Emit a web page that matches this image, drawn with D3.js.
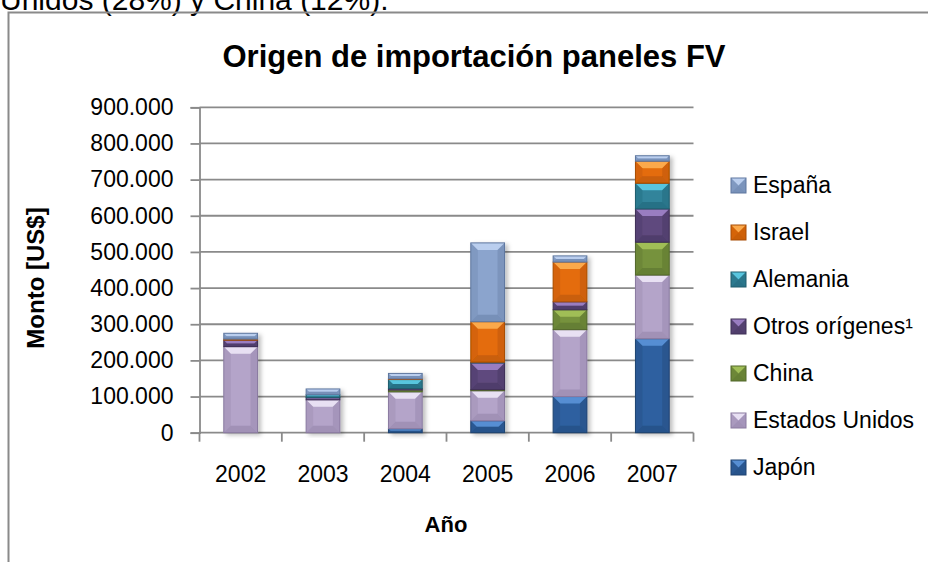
<!DOCTYPE html>
<html>
<head>
<meta charset="utf-8">
<script src="https://cdn.jsdelivr.net/npm/d3@7"></script>
<style>
  body { margin: 0; background: #fff; }
  svg { display: block; font-family: "Liberation Sans", Arial, sans-serif; }
</style>
</head>
<body>
<script>
// data (US$)
var years = ["2002", "2003", "2004", "2005", "2006", "2007"];
var japon    = [0, 0, 11000, 33000, 100000, 260000];
var eeuu     = [238000, 91000, 102000, 83000, 185000, 176000];
var china    = [0, 0, 5000, 3000, 55000, 91000];
var otros    = [18000, 6000, 4000, 74000, 22000, 92000];
var alemania = [0, 8000, 25000, 2000, 0, 71000];
var israel   = [3000, 0, 2000, 112000, 110000, 61000];
var espana   = [16000, 16000, 15000, 218000, 17000, 15000];
var yTicks = [0, 100000, 200000, 300000, 400000, 500000, 600000, 700000, 800000, 900000];

var series = [
  {name: "Japón", values: japon, color: "#2f61a0", light: "#5d97dc", dark: "#1f4270"},
  {name: "Estados Unidos", values: eeuu, color: "#b4a4c9", light: "#f1ebfa", dark: "#8a7aa0"},
  {name: "China", values: china, color: "#76923c", light: "#a8c65c", dark: "#52682a"},
  {name: "Otros orígenes¹", values: otros, color: "#5f4a7e", light: "#a386cc", dark: "#3f3056"},
  {name: "Alemania", values: alemania, color: "#30849b", light: "#5fd0ea", dark: "#1f5c6c"},
  {name: "Israel", values: israel, color: "#e46c0a", light: "#ffb457", dark: "#a84d05"},
  {name: "España", values: espana, color: "#8ba4cd", light: "#c2d6f3", dark: "#5f779f"}
];

var W = 928, H = 562;
var svg = d3.select("body").append("svg").attr("width", W).attr("height", H);

svg.append("defs").append("filter").attr("id", "shadow")
   .attr("x", "-20%").attr("y", "-5%").attr("width", "150%").attr("height", "115%")
   .append("feDropShadow").attr("dx", 3).attr("dy", 2).attr("stdDeviation", 2)
   .attr("flood-color", "#000").attr("flood-opacity", 0.25);

// text of the document above the chart, cut off
svg.append("text").attr("x", 0).attr("y", 10)
   .style("font-size", "30px").text("Unidos (28%) y China (12%).");

// chart frame
svg.append("path").attr("d", "M8.5," + H + "V12.5H" + W)
   .attr("fill", "none").attr("stroke", "#8a8a8a").attr("stroke-width", 2);

var plotL = 199.5, plotR = 693.5, plotT = 107.3, plotB = 432.7;

var x = d3.scaleBand().domain(years).range([plotL, plotR]).paddingInner(0.59).paddingOuter(0.295);
var y = d3.scaleLinear().domain([0, 900000]).range([plotB, plotT]);

var loc = d3.formatLocale({decimal: ",", thousands: ".", grouping: [3], currency: ["$", ""]});
var fmt = loc.format(",");

// gridlines
svg.append("g").selectAll("line").data(yTicks.slice(1)).join("line")
   .attr("x1", plotL).attr("x2", plotR)
   .attr("y1", function(d) { return y(d); }).attr("y2", function(d) { return y(d); })
   .attr("stroke", "#8a8a8a").attr("stroke-width", 1.8);

// y axis
var yAxis = svg.append("g").attr("transform", "translate(" + plotL + ",0)")
   .call(d3.axisLeft(y).tickValues(yTicks).tickFormat(fmt).tickSize(9).tickPadding(17));
yAxis.selectAll("line, path").attr("stroke", "#8a8a8a").attr("stroke-width", 1.8);
yAxis.selectAll("text").style("font-size", "23px").attr("fill", "#000")
   .attr("font-family", "Liberation Sans, Arial, sans-serif");

// x axis with ticks on the category boundaries
var xAxis = svg.append("g").attr("transform", "translate(0," + plotB + ")");
xAxis.append("line").attr("x1", plotL).attr("x2", plotR)
   .attr("stroke", "#8a8a8a").attr("stroke-width", 1.8);
var step = x.step();
xAxis.selectAll("line.tk").data(d3.range(years.length + 1)).join("line").attr("class", "tk")
   .attr("x1", function(i) { return plotL + i * step; }).attr("x2", function(i) { return plotL + i * step; })
   .attr("y1", 0).attr("y2", 9).attr("stroke", "#8a8a8a").attr("stroke-width", 1.8);
xAxis.selectAll("text").data(years).join("text")
   .attr("x", function(d) { return x(d) + x.bandwidth() / 2; }).attr("y", 49)
   .attr("text-anchor", "middle").style("font-size", "23px").text(function(d) { return d; });

// stacked bars
var table = years.map(function(yr, i) {
  var row = {year: yr};
  series.forEach(function(s) { row[s.name] = s.values[i]; });
  return row;
});
var stacked = d3.stack().keys(series.map(function(s) { return s.name; }))(table);

function bevel(g, x0, y0, w, h, s) {
  if (h <= 0) return;
  var b = Math.min(7, h / 2, w / 2);
  g.append("rect").attr("x", x0).attr("y", y0).attr("width", w).attr("height", h).attr("fill", s.color);
  g.append("polygon").attr("fill", s.light).attr("opacity", 0.85)
   .attr("points", [[x0, y0], [x0 + w, y0], [x0 + w - b, y0 + b], [x0 + b, y0 + b]].join(" "));
  g.append("polygon").attr("fill", s.dark).attr("opacity", 0.45)
   .attr("points", [[x0, y0 + h], [x0 + w, y0 + h], [x0 + w - b, y0 + h - b], [x0 + b, y0 + h - b]].join(" "));
  g.append("polygon").attr("fill", s.dark).attr("opacity", 0.25)
   .attr("points", [[x0, y0], [x0 + b, y0 + b], [x0 + b, y0 + h - b], [x0, y0 + h]].join(" "));
  g.append("polygon").attr("fill", s.dark).attr("opacity", 0.35)
   .attr("points", [[x0 + w, y0], [x0 + w - b, y0 + b], [x0 + w - b, y0 + h - b], [x0 + w, y0 + h]].join(" "));
  g.append("rect").attr("x", x0).attr("y", y0).attr("width", w).attr("height", h)
   .attr("fill", "none").attr("stroke", s.dark).attr("stroke-width", 1);
}

var bars = svg.append("g");
years.forEach(function(yr, i) {
  var col = bars.append("g").attr("filter", "url(#shadow)");
  stacked.forEach(function(layer, k) {
    var d = layer[i];
    bevel(col, x(yr), y(d[1]), x.bandwidth(), y(d[0]) - y(d[1]), series[k]);
  });
});

// legend, top series first
var legend = svg.append("g");
series.slice().reverse().forEach(function(s, i) {
  var cy = 185 + i * 47;
  bevel(legend, 731, cy - 7, 15, 15, s);
  legend.append("text").attr("x", 753).attr("y", cy + 8).style("font-size", "23px").text(s.name);
});

// titles
svg.append("text").attr("x", 474).attr("y", 67).attr("text-anchor", "middle")
   .style("font-size", "31px").style("font-weight", "bold").text("Origen de importación paneles FV");
svg.append("text").attr("transform", "translate(44,278) rotate(-90)").attr("text-anchor", "middle")
   .style("font-size", "24px").style("font-weight", "bold").text("Monto [US$]");
svg.append("text").attr("x", 446).attr("y", 532).attr("text-anchor", "middle")
   .style("font-size", "22px").style("font-weight", "bold").text("Año");
</script>
</body>
</html>
